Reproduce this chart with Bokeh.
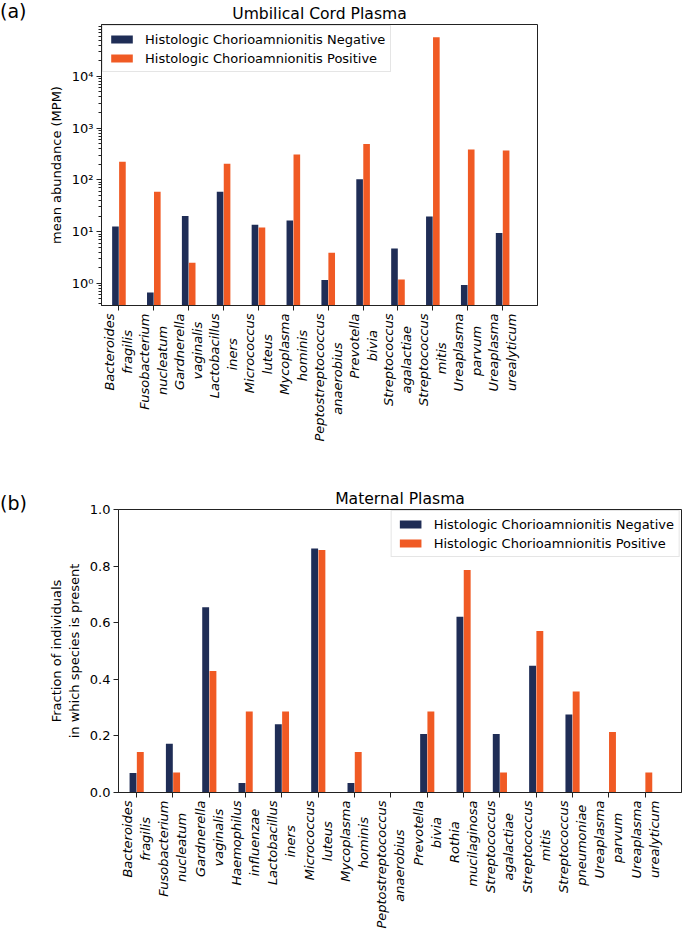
import math
import numpy as np
from bokeh.plotting import figure
from bokeh.models import Range1d, FixedTicker, Title, Div, PrintfTickFormatter
from bokeh.embed import file_html
from bokeh.resources import INLINE

# ---------------- data ----------------
cord_genus = ["Bacteroides", "Fusobacterium", "Gardnerella", "Lactobacillus", "Micrococcus",
              "Mycoplasma", "Peptostreptococcus", "Prevotella", "Streptococcus", "Streptococcus",
              "Ureaplasma", "Ureaplasma"]
cord_epithet = ["fragilis", "nucleatum", "vaginalis", "iners", "luteus", "hominis", "anaerobius",
                "bivia", "agalactiae", "mitis", "parvum", "urealyticum"]
cord_negative = [12.6, 0.67, 20.0, 59.0, 13.6, 16.5, 1.16, 103.0, 4.7, 19.6, 0.93, 9.4]
cord_positive = [224.0, 59.0, 2.5, 205.0, 12.0, 310.0, 3.9, 495.0, 1.19, 57000.0, 386.0, 370.0]

maternal_genus = ["Bacteroides", "Fusobacterium", "Gardnerella", "Haemophilus", "Lactobacillus",
                  "Micrococcus", "Mycoplasma", "Peptostreptococcus", "Prevotella", "Rothia",
                  "Streptococcus", "Streptococcus", "Streptococcus", "Ureaplasma", "Ureaplasma"]
maternal_epithet = ["fragilis", "nucleatum", "vaginalis", "influenzae", "iners", "luteus", "hominis",
                    "anaerobius", "bivia", "mucilaginosa", "agalactiae", "mitis", "pneumoniae",
                    "parvum", "urealyticum"]
maternal_negative = [0.069, 0.172, 0.655, 0.034, 0.241, 0.862, 0.034, 0.0, 0.207, 0.621,
                     0.207, 0.448, 0.276, 0.0, 0.0]
maternal_positive = [0.143, 0.071, 0.429, 0.286, 0.286, 0.857, 0.143, 0.0, 0.286, 0.786,
                     0.071, 0.571, 0.357, 0.214, 0.071]

log_major_ticks = [1, 10, 100, 1000, 10000]
log_major_labels = ["10⁰", "10¹", "10²", "10³", "10⁴"]
frac_ticks = [0.0, 0.2, 0.4, 0.6, 0.8, 1.0]

NEG_LABEL = "Histologic Chorioamnionitis Negative"
POS_LABEL = "Histologic Chorioamnionitis Positive"

# ---------------- style ----------------
NEG_COLOR = "#1F2D56"
POS_COLOR = "#F05A24"
FONT = "DejaVu Sans"
BAR_W = 0.19
OFF = 0.1

# DejaVu Sans advance widths (units of 1/2048 em), used only to centre the two label lines
ADV = {"a": 1255, "b": 1300, "c": 1126, "d": 1300, "e": 1260, "f": 721, "g": 1300, "h": 1298,
       "i": 569, "j": 569, "k": 1186, "l": 569, "m": 1995, "n": 1298, "o": 1253, "p": 1300,
       "q": 1300, "r": 842, "s": 1067, "t": 803, "u": 1298, "v": 1212, "w": 1675, "x": 1212,
       "y": 1212, "z": 1075, "B": 1405, "F": 1178, "G": 1587, "H": 1540, "L": 1141, "M": 1767,
       "P": 1235, "R": 1423, "S": 1300, "U": 1499}
NBSP = "\u00a0"


def two_line(first, second):
    w1 = sum(ADV.get(c, 1200) for c in first)
    w2 = sum(ADV.get(c, 1200) for c in second)
    n = int(round(abs(w1 - w2) / 2 / 651))
    if w1 > w2:
        second = second + NBSP * n
    else:
        first = first + NBSP * n
    return first + "\n" + second


def style(p, n, species_g, species_e):
    p.outline_line_color = "#222222"
    p.outline_line_width = 1
    p.xgrid.visible = False
    p.ygrid.visible = False
    p.background_fill_color = "white"
    p.border_fill_color = "white"
    for ax in p.xaxis:
        ax.ticker = FixedTicker(ticks=list(range(n)))
        ax.major_label_overrides = {i: two_line(g, e) for i, (g, e) in enumerate(zip(species_g, species_e))}
        ax.major_label_orientation = math.pi / 2
        ax.major_label_text_font_style = "italic"
    for ax in p.xaxis + p.yaxis:
        ax.axis_line_color = "#222222"
        ax.major_tick_line_color = "#222222"
        ax.minor_tick_line_color = "#222222"
        ax.major_tick_in = 0
        ax.major_tick_out = 5
        ax.minor_tick_in = 0
        ax.major_label_text_font = FONT
        ax.major_label_text_font_size = "13px"
        ax.major_label_text_color = "black"
        ax.major_label_standoff = 3
        ax.axis_label_text_font = FONT
        ax.axis_label_text_font_size = "13px"
        ax.axis_label_text_font_style = "normal"
        ax.axis_label_text_color = "black"
    for ax in p.xaxis:
        ax.minor_tick_out = 0


def style_legend(p, loc):
    lg = p.legend[0]
    lg.location = loc
    lg.margin = 1
    lg.padding = 5
    lg.spacing = 3
    lg.label_height = 16
    lg.glyph_height = 10
    lg.glyph_width = 27
    lg.label_standoff = 10
    lg.label_text_font = FONT
    lg.label_text_font_size = "13px"
    lg.label_text_color = "black"
    lg.border_line_color = "#cccccc"
    lg.border_line_width = 1
    lg.background_fill_color = "white"
    lg.background_fill_alpha = 0.85


def make_title(text):
    return Title(text=text, align="center", text_font=FONT, text_font_size="15.6px",
                 text_font_style="normal", text_color="black", standoff=4)


def panel_tag(text, top):
    return Div(text=text, styles={"position": "absolute", "left": "0px", "top": f"{top}px",
                                  "font-family": FONT, "font-size": "19px", "color": "black",
                                  "line-height": "1.2", "margin": "0px", "padding": "0px"})


# ---------------- panel (a) ----------------
nA = len(cord_genus)
xA = np.arange(nA)
pA = figure(width=683, height=480, title=make_title("Umbilical Cord Plasma"),
            x_range=Range1d(-0.5, 12.0), y_range=Range1d(0.374, 1.005e5),
            y_axis_type="log", output_backend="svg", toolbar_location=None,
            min_border_left=101, min_border_right=146, min_border_top=22, min_border_bottom=175)
pA.vbar(x=xA - OFF, top=cord_negative, bottom=1e-3, width=BAR_W, fill_color=NEG_COLOR,
        line_color=None, legend_label=NEG_LABEL)
pA.vbar(x=xA + OFF, top=cord_positive, bottom=1e-3, width=BAR_W, fill_color=POS_COLOR,
        line_color=None, legend_label=POS_LABEL)
style(pA, nA, cord_genus, cord_epithet)
minor = []
for d in [0.1, 1, 10, 100, 1000, 10000]:
    minor += [k * d for k in range(2, 10)]
pA.yaxis[0].ticker = FixedTicker(ticks=log_major_ticks, minor_ticks=minor)
pA.yaxis[0].major_label_overrides = {t: l for t, l in zip(log_major_ticks, log_major_labels)}
pA.yaxis[0].minor_tick_out = 3
pA.yaxis[0].axis_label = "mean abundance (MPM)"
style_legend(pA, "top_left")

# ---------------- panel (b) ----------------
nB = len(maternal_genus)
xB = np.arange(nB)
pB = figure(width=683, height=452, title=make_title("Maternal Plasma"),
            x_range=Range1d(-0.5, 15.0), y_range=Range1d(0.0, 1.0),
            output_backend="svg", toolbar_location=None,
            min_border_left=118, min_border_right=2, min_border_top=29, min_border_bottom=140)
pB.vbar(x=xB - OFF, top=maternal_negative, bottom=0, width=BAR_W, fill_color=NEG_COLOR,
        line_color=None, legend_label=NEG_LABEL)
pB.vbar(x=xB + OFF, top=maternal_positive, bottom=0, width=BAR_W, fill_color=POS_COLOR,
        line_color=None, legend_label=POS_LABEL)
style(pB, nB, maternal_genus, maternal_epithet)
pB.yaxis[0].ticker = FixedTicker(ticks=frac_ticks)
pB.yaxis[0].formatter = PrintfTickFormatter(format="%.1f")
pB.yaxis[0].minor_tick_out = 0
pB.yaxis[0].axis_label = "Fraction of individuals\nin which species is present"
style_legend(pB, "top_right")

tagA = panel_tag("(a)", 0)
tagB = panel_tag("(b)", 492)

open("out.html", "w").write(file_html([pA, pB, tagA, tagB], INLINE))
